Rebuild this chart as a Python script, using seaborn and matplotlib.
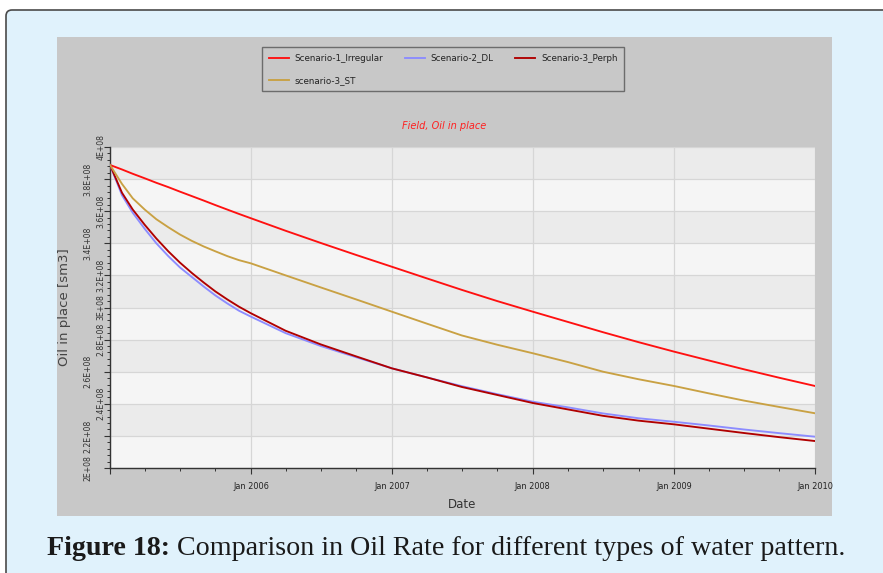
import matplotlib
matplotlib.use("Agg")
import matplotlib.pyplot as plt
import matplotlib.dates as mdates
from matplotlib.ticker import FuncFormatter, AutoMinorLocator
from matplotlib.patches import FancyBboxPatch, Rectangle
import seaborn as sns
import pandas as pd
import numpy as np

# ---------------- data (values in E+08 sm3) ----------------
dates = ["2005-01-01", "2005-02-01", "2005-03-01", "2005-04-01", "2005-05-01",
         "2005-06-01", "2005-07-01", "2005-08-01", "2005-09-01", "2005-10-01",
         "2005-11-01", "2005-12-01",
         "2006-01-01", "2006-04-01", "2006-07-01", "2006-10-01",
         "2007-01-01", "2007-04-01", "2007-07-01", "2007-10-01",
         "2008-01-01", "2008-04-01", "2008-07-01", "2008-10-01",
         "2009-01-01", "2009-04-01", "2009-07-01", "2009-10-01",
         "2010-01-01"]

irregular = [3.888, 3.860, 3.833, 3.805, 3.777, 3.750, 3.722, 3.694, 3.666, 3.638,
             3.610, 3.583,
             3.556, 3.478, 3.402, 3.327,
             3.254, 3.182, 3.110, 3.040,
             2.974, 2.910, 2.846, 2.784,
             2.725, 2.670, 2.615, 2.562,
             2.511]

dl = [3.888, 3.700, 3.590, 3.490, 3.400, 3.320, 3.250, 3.190, 3.130, 3.075,
      3.025, 2.980,
      2.943, 2.840, 2.760, 2.690,
      2.621, 2.565, 2.510, 2.460,
      2.413, 2.378, 2.340, 2.310,
      2.288, 2.265, 2.240, 2.217,
      2.195]

perph = [3.888, 3.715, 3.610, 3.515, 3.430, 3.350, 3.280, 3.215, 3.155, 3.100,
         3.050, 3.005,
         2.964, 2.855, 2.770, 2.695,
         2.621, 2.565, 2.505, 2.455,
         2.405, 2.365, 2.325, 2.295,
         2.272, 2.245, 2.218, 2.192,
         2.168]

st = [3.888, 3.770, 3.680, 3.610, 3.550, 3.500, 3.455, 3.415, 3.380, 3.350,
      3.320, 3.295,
      3.275, 3.200, 3.125, 3.050,
      2.974, 2.900, 2.826, 2.768,
      2.715, 2.660, 2.600, 2.553,
      2.511, 2.465, 2.420, 2.380,
      2.341]

series_names = ["Scenario-1_Irregular", "Scenario-2_DL", "Scenario-3_Perph", "scenario-3_ST"]
series_values = [irregular, dl, perph, st]
colors = {"Scenario-1_Irregular": "#FF1010",
          "Scenario-2_DL": "#8C8CFF",
          "Scenario-3_Perph": "#B00000",
          "scenario-3_ST": "#C9A143"}

# y tick values (E+08) and which ones sit in the outer (left) label column
ytick_values = [2.0, 2.2, 2.4, 2.6, 2.8, 3.0, 3.2, 3.4, 3.6, 3.8, 4.0]
ytick_outer = [True, True, False, True, False, False, False, True, False, True, False]

frames = []
for name, vals in zip(series_names, series_values):
    frames.append(pd.DataFrame({"Date": pd.to_datetime(dates),
                                "Oil": np.array(vals) * 1e8,
                                "Scenario": name}))
df = pd.concat(frames, ignore_index=True)

# ---------------- figure ----------------
W, H = 883, 573
fig = plt.figure(figsize=(W / 100, H / 100), dpi=100, facecolor="white")

# outer light-blue box
box = FancyBboxPatch((6, -60), 1000, H - 10 + 60,
                     boxstyle="round,pad=0,rounding_size=6",
                     transform=None, facecolor="#E0F2FC", edgecolor="#4a4a4a",
                     linewidth=1.2, zorder=-3)
fig.patches.append(box)

# gray chart panel
panel = Rectangle((57 / W, 1 - 516 / H), (832 - 57) / W, (516 - 37) / H,
                  transform=fig.transFigure, facecolor="#C8C8C8",
                  edgecolor="none", zorder=-2)
fig.patches.append(panel)

ax_l, ax_r, ax_t, ax_b = 110, 815, 147, 468
ax = fig.add_axes([ax_l / W, 1 - ax_b / H, (ax_r - ax_l) / W, (ax_b - ax_t) / H])
ax.set_facecolor("#F5F5F5")

ymin, ymax = 2e8, 4e8
# alternating bands
edges = np.array(ytick_values) * 1e8
for i in range(len(edges) - 1):
    if i % 2 == 1:
        ax.axhspan(edges[i], edges[i + 1], color="#EBEBEB", zorder=0, lw=0)

sns.lineplot(data=df, x="Date", y="Oil", hue="Scenario", palette=colors,
             hue_order=series_names, linewidth=1.35, ax=ax, legend=False,
             zorder=3)

ax.set_xlim(pd.Timestamp("2005-01-01"), pd.Timestamp("2010-01-01"))
ax.set_ylim(ymin, ymax)

ax.xaxis.set_major_locator(mdates.YearLocator())
ax.xaxis.set_minor_locator(mdates.MonthLocator(bymonth=[1, 4, 7, 10]))


def xfmt(v, pos):
    d = mdates.num2date(v)
    if d.year == 2005:
        return ""
    return d.strftime("Jan %Y")


ax.xaxis.set_major_formatter(FuncFormatter(xfmt))
ax.set_yticks(np.array(ytick_values) * 1e8)
ax.yaxis.set_minor_locator(AutoMinorLocator(5))

ax.grid(True, which="major", axis="both", color="#D6D6D6", linewidth=0.9, zorder=1)
ax.set_axisbelow(True)

for s in ["top", "right"]:
    ax.spines[s].set_visible(False)
for s in ["left", "bottom"]:
    ax.spines[s].set_color("#333333")
    ax.spines[s].set_linewidth(1.0)

ax.tick_params(axis="both", which="major", direction="out", length=4, width=0.8,
               colors="#333333", labelsize=5.9, labelcolor="#222222")
ax.tick_params(axis="both", which="minor", direction="out", length=2.2, width=0.7,
               colors="#333333")
ax.tick_params(axis="x", pad=6)
ax.tick_params(axis="y", labelleft=False)

# staggered, rotated y tick labels (as in the reference)
ytrans = ax.get_yaxis_transform()
for v, outer in zip(ytick_values, ytick_outer):
    xpos = (88 - ax_l) / (ax_r - ax_l) if outer else (101 - ax_l) / (ax_r - ax_l)
    ax.text(xpos, v * 1e8, f"{v:g}E+08", transform=ytrans, rotation=90,
            ha="center", va="center", fontsize=5.6, color="#333333",
            clip_on=False)

ax.set_xlabel("Date", fontsize=8.5, color="#333333", labelpad=5)
ax.set_ylabel("Oil in place [sm3]", fontsize=9.5, color="#444444")
ax.yaxis.set_label_coords((71 - ax_l) / (ax_r - ax_l), 0.5)

# title
fig.text(444 / W, 1 - 126 / H, "Field, Oil in place", color="#FF2020",
         fontsize=7, style="italic", ha="center", va="center")

# legend
order = ["Scenario-1_Irregular", "scenario-3_ST", "Scenario-2_DL", "Scenario-3_Perph"]
handles = {}
for line, name in zip(ax.get_lines(), series_names):
    handles[name] = line
leg = fig.legend([handles[n] for n in order], order, ncol=3,
                 loc="upper left", bbox_to_anchor=(262 / W, 1 - 47 / H),
                 bbox_transform=fig.transFigure,
                 fontsize=6.3, frameon=True, fancybox=False,
                 edgecolor="#555555", facecolor="none",
                 handlelength=2.3, handletextpad=0.7, columnspacing=2.4,
                 labelspacing=1.5, borderpad=0.75, borderaxespad=0)
leg.get_frame().set_linewidth(1.0)
for t in leg.get_texts():
    t.set_color("#222222")

# caption
t1 = fig.text(47 / W, 1 - 555 / H, "Figure 18:", fontsize=20.2, fontweight="bold",
              family="Liberation Serif", color="#1a1a1a", ha="left", va="baseline")
t2 = fig.text(0, 1 - 555 / H, " Comparison in Oil Rate for different types of water pattern.",
              fontsize=20.2, family="Liberation Serif", color="#1a1a1a",
              ha="left", va="baseline")
fig.canvas.draw()
bb = t1.get_window_extent()
t2.set_position((bb.x1 / W, 1 - 555 / H))

fig.savefig("out.png", dpi=100, facecolor="white")
